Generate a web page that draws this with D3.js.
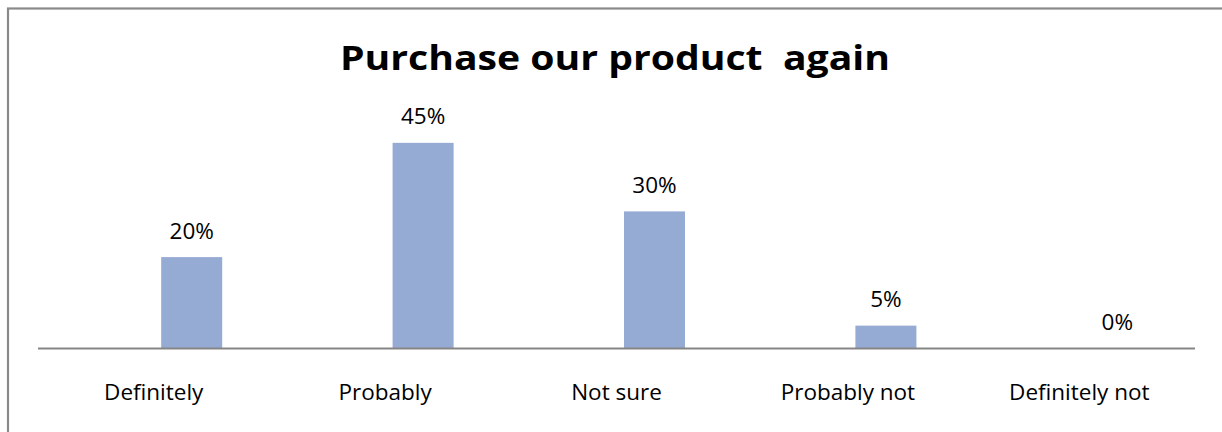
<!DOCTYPE html>
<html>
<head>
<meta charset="utf-8">
<script src="https://cdn.jsdelivr.net/npm/d3@7"></script>
<style>
  html, body { margin: 0; padding: 0; background: #fff; overflow: hidden; }
  svg { display: block; }
  text { font-family: "Open Sans", "Noto Sans", sans-serif; fill: #000; }
</style>
</head>
<body>
<svg id="chart" width="1222" height="432"></svg>
<script>
// Survey answers and their shares (percent)
const categories = ["Definitely", "Probably", "Not sure", "Probably not", "Definitely not"];
const values = [20, 45, 30, 5, 0];
const titleText = "Purchase our product  again";

const W = 1222, H = 432;
const svg = d3.select("#chart");

// Chart frame (runs past the right and bottom edges of the view)
svg.append("rect")
  .attr("x", 8).attr("y", 8.5)
  .attr("width", W + 40).attr("height", H + 40)
  .attr("fill", "#fff")
  .attr("stroke", "#8a8a8a")
  .attr("stroke-width", 2.2);

const plot = { left: 38, right: 1195, baseline: 348.5, top: 120 };

const x = d3.scaleBand()
  .domain(categories)
  .range([plot.left, plot.right]);

const y = d3.scaleLinear()
  .domain([0, 50])
  .range([plot.baseline, plot.top]);

const barW = 61;
const barShift = 38; // bars sit right of the category centre
const barX = c => x(c) + x.bandwidth() / 2 + barShift - barW / 2;

// Bars
svg.append("g").selectAll("rect")
  .data(values)
  .join("rect")
  .attr("x", (d, i) => barX(categories[i]))
  .attr("y", d => y(d))
  .attr("width", barW)
  .attr("height", d => y(0) - y(d))
  .attr("fill", "#95abd4");

// Value labels
svg.append("g").selectAll("text")
  .data(values)
  .join("text")
  .attr("x", (d, i) => barX(categories[i]) + barW / 2)
  .attr("y", d => y(d) - 18.5)
  .attr("text-anchor", "middle")
  .attr("font-size", 22.5)
  .text(d => d + "%");

// Category axis
const axis = svg.append("g")
  .attr("transform", `translate(0,${plot.baseline})`)
  .call(d3.axisBottom(x).tickSize(0).tickPadding(0));
axis.select(".domain")
  .attr("stroke", "#868686")
  .attr("stroke-width", 2)
  .attr("d", `M${plot.left},0H${plot.right}`);
axis.selectAll(".tick text")
  .attr("y", 51.5)
  .attr("dy", null)
  .attr("font-size", 22.5)
  .attr("font-family", "\"Open Sans\", \"Noto Sans\", sans-serif")
  .attr("fill", "#000");

// Title
svg.append("text")
  .attr("x", 615)
  .attr("y", 70)
  .attr("text-anchor", "middle")
  .attr("font-size", 34)
  .attr("font-weight", "bold")
  .attr("textLength", 550)
  .attr("lengthAdjust", "spacingAndGlyphs")
  .style("white-space", "pre")
  .text(titleText);
</script>
</body>
</html>
